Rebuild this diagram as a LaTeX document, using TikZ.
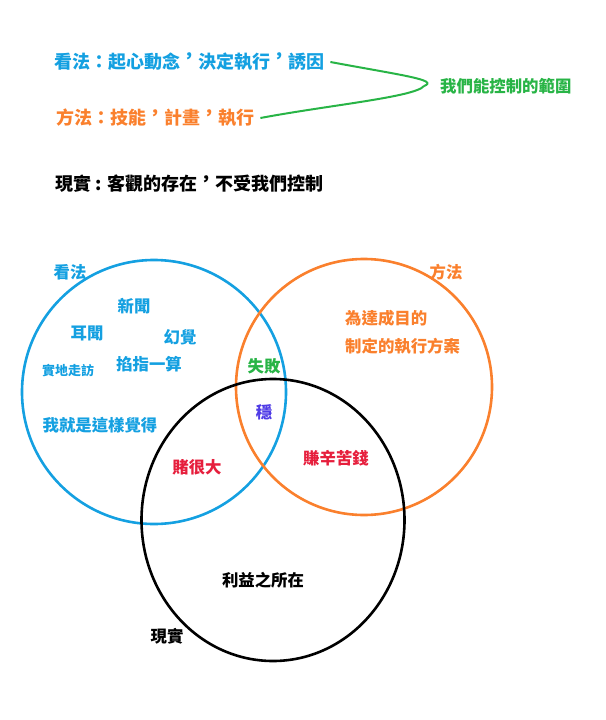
\documentclass[tikz,border=0pt]{standalone}
\usepackage{fontspec}
\usetikzlibrary{shapes.geometric}
\setmainfont{Noto Sans CJK TC}
\definecolor{kblue}{RGB}{20,160,225}
\definecolor{korange}{RGB}{250,128,45}
\definecolor{kgreen}{RGB}{40,180,70}
\definecolor{kred}{RGB}{230,30,60}
\definecolor{kviolet}{RGB}{80,60,230}
\newcommand{\kcomma}{\raisebox{.32em}{，}}
\begin{document}
\begin{tikzpicture}[
		x=1pt, y=-1pt,
		ring/.style={
				draw,
				line width=2.6pt
			},
		txt/.style={
				inner sep=0pt,
				font=\bfseries\fontsize{16.4}{18}\selectfont
			},
		big/.style={
				inner sep=0pt,
				font=\bfseries\fontsize{18}{20}\selectfont
			},
		small/.style={
				inner sep=0pt,
				font=\bfseries\fontsize{13}{15}\selectfont
			},
	]
	\useasboundingbox (0,0) rectangle (605,720);
	% top notes
	\node [big, kblue, anchor=west] (see) at (54, 62) {看法：起心動念\kcomma 決定執行\kcomma 誘因};
	\node [big, korange, anchor=west] (way) at (56, 118) {方法：技能\kcomma 計畫\kcomma 執行};
	\node [txt, kgreen, anchor=west] (ctrl) at (440, 86) {我們能控制的範圍};
	\node [big, anchor=west] (real) at (55, 184) {現實 : 客觀的存在\kcomma 不受我們控制};
	\coordinate (tip) at (424, 86);
	\draw [kgreen, line width=2pt] ([xshift=6pt]see.east) .. controls (400, 75) and (440, 80) .. (tip);
	\draw [kgreen, line width=2pt] (tip) .. controls (415, 97) and (330, 105) .. ([xshift=6pt]way.east);
	% circles
	\node [ring, kblue, circle, minimum size=264pt] (A) at (154, 392) {};
	\node [ring, korange, circle, minimum size=256pt] (B) at (364, 387) {};
	\node [ring, black, ellipse, minimum width=263pt, minimum height=282pt, inner sep=0pt] (C) at (273, 520) {};
	% labels
	\node [txt, kblue] (seeT) at (70, 272) {看法};
	\node [txt, korange] (wayT) at (446, 272) {方法};
	\node [txt, kblue] (n1) at (134, 306) {新聞};
	\node [txt, kblue] (n2) at (87, 333) {耳聞};
	\node [txt, kblue] (n3) at (180, 337) {幻覺};
	\node [small, kblue] (n4) at (68, 371) {實地走訪};
	\node [txt, kblue] (n5) at (149, 364) {掐指一算};
	\node [txt, kblue] (n6) at (100, 425) {我就是這樣覺得};
	\node [txt, kgreen] (fail) at (264, 366) {失敗};
	\node [txt, kviolet] (safe) at (264, 412) {穩};
	\node [txt, kred] (bet) at (197, 467) {賭很大};
	\node [txt, kred] (hard) at (336, 458) {賺辛苦錢};
	\node [txt, korange, anchor=west] (g1) at (345, 318) {為達成目的};
	\node [txt, korange, anchor=west] (g2) at (345, 346) {制定的執行方案};
	\node [txt] (gain) at (263, 580) {利益之所在};
	\node [txt] (realT) at (167, 636) {現實};
\end{tikzpicture}
\end{document}
